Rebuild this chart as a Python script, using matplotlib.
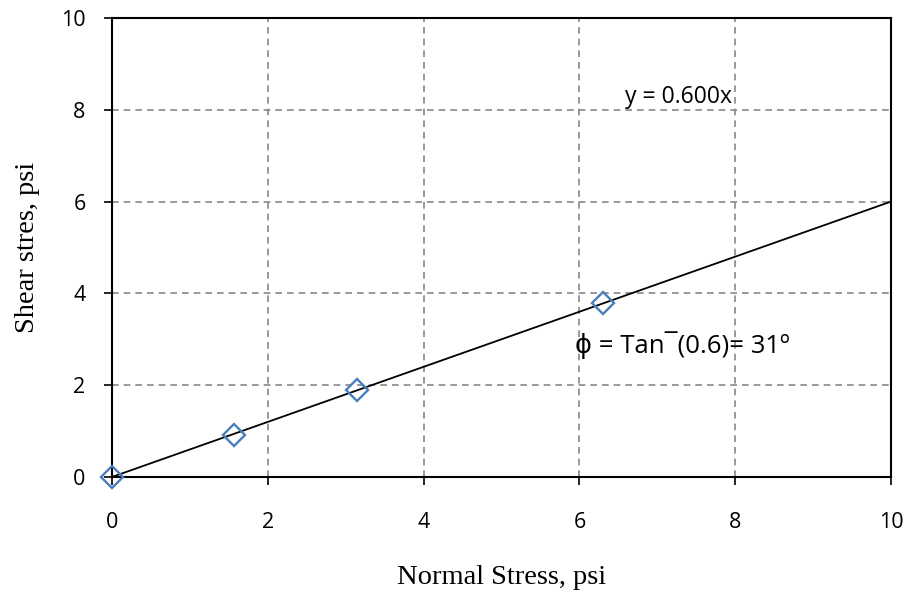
import matplotlib
matplotlib.use("Agg")
import matplotlib.pyplot as plt
import numpy as np

normal_stress = [0.0, 1.57, 3.15, 6.30]
shear_stress = [0.0, 0.92, 1.90, 3.80]
slope = 0.600
fit_x = [0, 10]
ticks = [0, 2, 4, 6, 8, 10]

sans = ['Open Sans', 'DejaVu Sans']
serif = ['Liberation Serif', 'DejaVu Serif']

fig = plt.figure(figsize=(9.09, 5.96), dpi=100)
ax = fig.add_axes([0.1232, 0.1997, 0.857, 0.7701])

fit_y = [slope * v for v in fit_x]
ax.plot(fit_x, fit_y, color='black', lw=1.3, zorder=3)
ax.plot(normal_stress, shear_stress, linestyle='none', marker='D', markersize=11,
        markerfacecolor='none', markeredgecolor='#4A7EBB', markeredgewidth=1.7,
        zorder=4, clip_on=False)

ax.set_xlim(0, 10)
ax.set_ylim(0, 10)
ax.set_xticks(ticks)
ax.set_yticks(ticks)
ax.grid(True, linestyle=(0, (4, 3)), color='#888888', lw=1.2)
ax.set_axisbelow(True)
for s in ax.spines.values():
    s.set_color('black')
    s.set_linewidth(1.5)
ax.tick_params(direction='out', length=6, width=1.2, labelsize=15.5)
ax.tick_params(axis='x', pad=19)
ax.tick_params(axis='y', pad=13)
for lab in ax.get_xticklabels() + ax.get_yticklabels():
    lab.set_family(sans)

ax.set_xlabel('Normal Stress, psi', family=serif, fontsize=20.5, labelpad=23)
ax.set_ylabel('Shear stres, psi', family=serif, fontsize=20.5, labelpad=15)

ax.text(6.585, 8.15, 'y = 0.600x', family=sans, fontsize=16.5, va='baseline', ha='left')
ax.text(5.94, 2.70, 'ϕ = Tan¯(0.6)= 31º',
        family=sans, fontsize=18.5, va='baseline', ha='left')

fig.savefig('out.png', dpi=100)
